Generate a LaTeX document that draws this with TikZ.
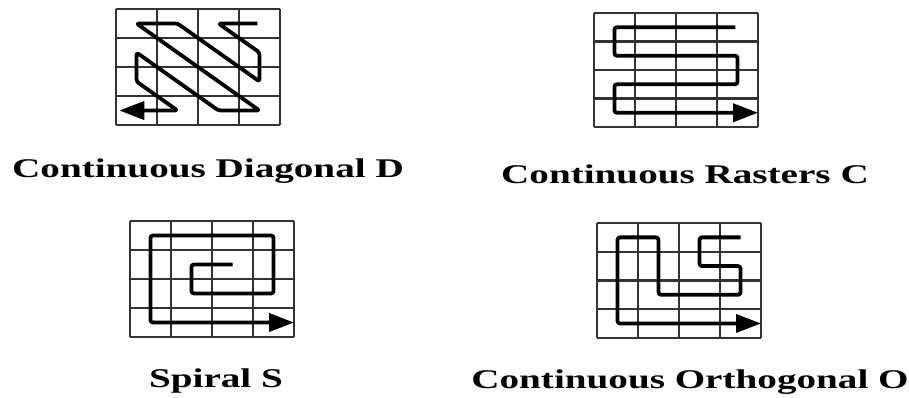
\documentclass[tikz,border=0pt]{standalone}
\usepackage{fontspec}
\setmainfont{Liberation Serif}
\usetikzlibrary{arrows.meta}
\tikzset{
  gridline/.style={line width=2.2pt, draw=black!80},
  scanpath/.style={line width=3.8pt, line join=round, rounded corners=2.5pt,
    -{Triangle[length=25pt,width=18pt]}},
  caption/.style={anchor=base, inner sep=0pt, text=black,
    font=\fontsize{27}{30}\selectfont\bfseries},
}
\newcommand\capstretch[1]{\scalebox{1.45}[1]{#1}}
\begin{document}
\begin{tikzpicture}[x=1pt,y=-1pt]
\useasboundingbox (0,0) rectangle (909,397);
\fill[white] (0,0) rectangle (909,397);

% Continuous Diagonal D
\begin{scope}[shift={(116,9)},x=41pt,y=-29pt]
  \foreach \i in {0,...,4} {
    \draw[gridline] (\i,0) -- (\i,4);
    \draw[gridline] (0,\i) -- (4,\i);
  }
  \coordinate (dstart) at (3.45,0.5);
  \coordinate (dend) at (0.08,3.5);
  \draw[scanpath] (dstart) -- (2.5,0.5) -- (3.5,1.5) -- (3.5,2.5) -- (1.5,0.5)
    -- (0.5,0.5) -- (3.5,3.5) -- (2.5,3.5) -- (0.5,1.5) -- (0.5,2.5)
    -- (1.5,3.5) -- (dend);
\end{scope}
\node[caption] (capD) at (208,177) {\capstretch{Continuous Diagonal D}};

% Continuous Rasters C
\begin{scope}[shift={(594,13)},x=41pt,y=-28.5pt]
  \foreach \i in {0,...,4} {
    \draw[gridline] (\i,0) -- (\i,4);
    \draw[gridline] (0,\i) -- (4,\i);
  }
  \coordinate (cstart) at (3.45,0.5);
  \coordinate (cend) at (4,3.5);
  \draw[scanpath] (cstart) -- (0.5,0.5) -- (0.5,1.5) -- (3.5,1.5) -- (3.5,2.5)
    -- (0.5,2.5) -- (0.5,3.5) -- (cend);
\end{scope}
\node[caption] (capC) at (685,183) {\capstretch{Continuous Rasters C}};

% Spiral S
\begin{scope}[shift={(130,221)},x=41pt,y=-29pt]
  \foreach \i in {0,...,4} {
    \draw[gridline] (\i,0) -- (\i,4);
    \draw[gridline] (0,\i) -- (4,\i);
  }
  \coordinate (sstart) at (2.5,1.5);
  \coordinate (send) at (4,3.5);
  \draw[scanpath] (sstart) -- (1.5,1.5) -- (1.5,2.5) -- (3.5,2.5) -- (3.5,0.5)
    -- (0.5,0.5) -- (0.5,3.5) -- (send);
\end{scope}
\node[caption] (capS) at (216,387) {\capstretch{Spiral S}};

% Continuous Orthogonal O
\begin{scope}[shift={(597,223)},x=41pt,y=-28.7pt]
  \foreach \i in {0,...,4} {
    \draw[gridline] (\i,0) -- (\i,4);
    \draw[gridline] (0,\i) -- (4,\i);
  }
  \coordinate (ostart) at (3.5,0.5);
  \coordinate (oend) at (4,3.5);
  \draw[scanpath] (ostart) -- (2.5,0.5) -- (2.5,1.5) -- (3.5,1.5) -- (3.5,2.5)
    -- (1.5,2.5) -- (1.5,0.5) -- (0.5,0.5) -- (0.5,3.5) -- (oend);
\end{scope}
\node[caption] (capO) at (690,388) {\capstretch{Continuous Orthogonal O}};
\end{tikzpicture}
\end{document}
